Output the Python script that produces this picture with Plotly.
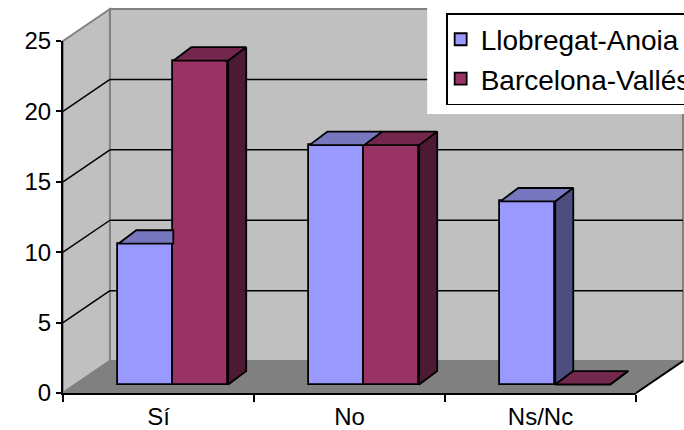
import plotly.graph_objects as go

categories = ["Sí", "No", "Ns/Nc"]
series_names = ["Llobregat-Anoia", "Barcelona-Vallés"]
llobregat = [10, 17, 13]
barcelona = [23, 17, 0]
y_ticks = [0, 5, 10, 15, 20, 25]

# geometry (page pixels)
W, H = 684, 430
AX_L, AX_R, AX_B, AX_T = 62.5, 636, 393.5, 41
DEPTH_X, DEPTH_Y = 47, 32
PX_PER_CAT = (AX_R - AX_L) / 3
PX_PER_UNIT = (AX_B - AX_T) / 25
BAR_W = 55 / PX_PER_CAT
SHIFT = 14.8 / PX_PER_CAT
BASE = 8.5 / PX_PER_UNIT
BD_X = 18 / PX_PER_CAT
BD_Y = 13.5 / PX_PER_UNIT

def px(x):
    return (x - AX_L) / (AX_R - AX_L)
def py(y):
    return (AX_B - y) / (AX_B - AX_T)

def poly(pts, fill, line="#808080", width=2):
    path = "M" + " L".join(f"{px(a):.5f},{py(b):.5f}" for a, b in pts) + " Z"
    return dict(type="path", xref="paper", yref="paper", path=path, fillcolor=fill,
                line=dict(color=line, width=width), layer="below")

def seg(p, q, color="black", width=1.5):
    return dict(type="line", xref="paper", yref="paper", x0=px(p[0]), y0=py(p[1]), x1=px(q[0]), y1=py(q[1]),
                line=dict(color=color, width=width), layer="below")

shapes = [
    poly([(AX_L, AX_T), (AX_L + DEPTH_X, AX_T - DEPTH_Y), (AX_L + DEPTH_X, AX_B - DEPTH_Y), (AX_L, AX_B)], "#c0c0c0"),
    poly([(AX_L + DEPTH_X, AX_T - DEPTH_Y), (AX_R + DEPTH_X, AX_T - DEPTH_Y), (AX_R + DEPTH_X, AX_B - DEPTH_Y), (AX_L + DEPTH_X, AX_B - DEPTH_Y)], "#c0c0c0"),
    poly([(AX_L, AX_B), (AX_R, AX_B), (AX_R + DEPTH_X, AX_B - DEPTH_Y), (AX_L + DEPTH_X, AX_B - DEPTH_Y)], "#808080"),
    seg((AX_R, AX_B), (AX_R + DEPTH_X, AX_B - DEPTH_Y), width=2),
    seg((AX_L, AX_B), (AX_L + DEPTH_X, AX_B - DEPTH_Y), "#808080", 2),
]
for t in y_ticks[1:-1]:
    yy = AX_B - t * PX_PER_UNIT
    shapes.append(seg((AX_L, yy), (AX_L + DEPTH_X, yy - DEPTH_Y)))
    shapes.append(seg((AX_L + DEPTH_X, yy - DEPTH_Y), (AX_R + DEPTH_X, yy - DEPTH_Y)))
# white area behind the legend
shapes.append(dict(type="rect", xref="paper", yref="paper", x0=px(427), x1=px(690), y0=py(114), y1=py(-2),
                   fillcolor="white", line=dict(width=0), layer="above"))

fig = go.Figure()

front = {
    series_names[0]: (llobregat, -BAR_W + SHIFT, "#9999ff", "#7777c0", "#4d4d80"),
    series_names[1]: (barcelona, SHIFT, "#993366", "#73274d", "#4d1a33"),
}
for name, (vals, off, col, _, _) in front.items():
    fig.add_trace(go.Bar(name=name, x=categories, y=vals, base=BASE, offset=off, width=BAR_W,
                         marker=dict(color=col, line=dict(color="black", width=1.8))))

# depth faces computed from the values
def add_face(xs, ys, color):
    fig.add_trace(go.Scatter(x=xs, y=ys, xaxis="x2", yaxis="y", mode="lines", fill="toself", fillcolor=color,
                             line=dict(color="black", width=1.8), showlegend=False, hoverinfo="skip"))

names = list(front)
for s, name in enumerate(names):
    vals, off, col, top, side = front[name]
    nxt = front[names[s + 1]][0] if s + 1 < len(names) else None
    for i, v in enumerate(vals):
        x0 = i + off
        x1 = x0 + BAR_W
        y = v + BASE
        hidden = nxt is not None and nxt[i] > v
        if hidden:
            add_face([x0, x1, x1, x0 + BD_X, x0], [y, y, y + BD_Y, y + BD_Y, y], top)
            continue
        add_face([x0, x1, x1 + BD_X, x0 + BD_X, x0], [y, y, y + BD_Y, y + BD_Y, y], top)
        if nxt is None or nxt[i] < v:
            add_face([x1, x1 + BD_X, x1 + BD_X, x1, x1],
                     [y, y + BD_Y, BASE + BD_Y, BASE, y], side)

font = "Liberation Sans, Arial, sans-serif"
fig.update_layout(
    width=W, height=H, autosize=False,
    margin=dict(l=AX_L, r=W - AX_R, t=AX_T, b=H - AX_B, autoexpand=False),
    paper_bgcolor="white", plot_bgcolor="rgba(0,0,0,0)",
    barmode="overlay", bargap=0,
    shapes=shapes,
    font=dict(family=font, color="black"),
    xaxis=dict(type="category", categoryorder="array", categoryarray=categories, range=[-0.5, 2.5],
               tickson="boundaries", ticks="outside", ticklen=7, tickwidth=1.5, tickcolor="black",
               showline=True, linecolor="black", linewidth=2, showgrid=False, zeroline=False,
               ticklabelstandoff=1, tickfont=dict(size=24, family=font)),
    xaxis2=dict(overlaying="x", type="linear", range=[-0.5, 2.5], visible=False, fixedrange=True),
    yaxis=dict(range=[0, 25], tickvals=y_ticks, ticks="outside", ticklen=5, tickwidth=1.5, tickcolor="black",
               showline=True, linecolor="black", linewidth=2, showgrid=False, zeroline=False,
               tickfont=dict(size=24, family=font)),
    legend=dict(x=px(446), y=py(13), xanchor="left", yanchor="top", bgcolor="white", bordercolor="black",
                borderwidth=1.5, font=dict(size=28, family=font), itemwidth=30, indentation=-7,
                traceorder="normal"),
)
fig.write_html("out.html", config=dict(displayModeBar=False),
               post_script="document.body.style.margin='0';document.body.style.overflow='hidden';")
